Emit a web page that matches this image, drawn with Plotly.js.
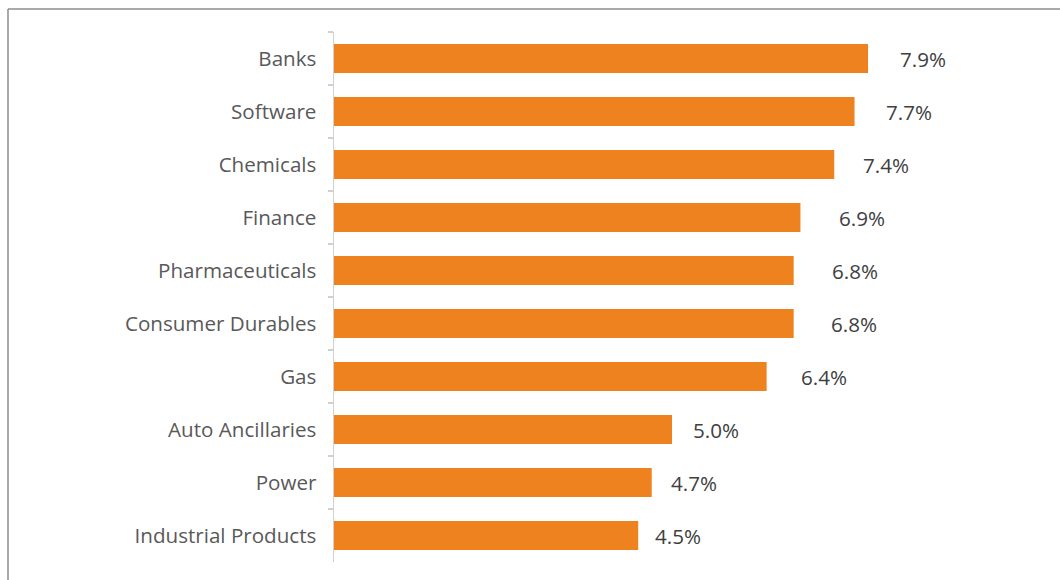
<!DOCTYPE html>
<html>
<head>
<meta charset="utf-8">
<script src="https://cdn.plot.ly/plotly-3.0.1.min.js"></script>
<style>html,body{margin:0;padding:0;background:#fff;}#chart{width:1060px;height:580px;}</style>
</head>
<body>
<div id="chart"></div>
<script>
const categories = ["Banks","Software","Chemicals","Finance","Pharmaceuticals","Consumer Durables","Gas","Auto Ancillaries","Power","Industrial Products"];
const values = [7.9, 7.7, 7.4, 6.9, 6.8, 6.8, 6.4, 5.0, 4.7, 4.5];
const valueLabels = ["7.9%","7.7%","7.4%","6.9%","6.8%","6.8%","6.4%","5.0%","4.7%","4.5%"];
// horizontal offset (px) of each value label from its bar end, as placed in the original
const labelOffsets = [30, 29, 27, 37, 36, 35, 32, 19, 17, 15];

const W = 1060, H = 580;
const mL = 334, mR = 20, mT = 32, mB = 18;
const plotW = W - mL - mR, plotH = H - mT - mB;
const pxPerUnit = 67.6;
const FS = 20.6;

const trace = {
  type: 'bar',
  orientation: 'h',
  x: values,
  y: categories,
  marker: {color: '#ee821e', line: {width: 0}},
  hoverinfo: 'skip'
};

const annotations = values.map((v, i) => ({
  x: v, y: categories[i], xref: 'x', yref: 'y',
  text: valueLabels[i], showarrow: false,
  xanchor: 'left', yanchor: 'middle', xshift: labelOffsets[i],
  font: {family: 'Open Sans', size: FS, color: '#404040'}
}));

const px = (p) => (p - mL) / plotW;
const py = (p) => 1 - (p - mT) / plotH;

const layout = {
  width: W, height: H,
  margin: {l: mL, r: mR, t: mT, b: mB, pad: 0},
  paper_bgcolor: '#ffffff', plot_bgcolor: '#ffffff',
  showlegend: false,
  bargap: 0.45,
  font: {family: 'Open Sans', size: FS, color: '#595959'},
  xaxis: {
    range: [0, plotW / pxPerUnit], visible: false, fixedrange: true
  },
  yaxis: {
    type: 'category', autorange: 'reversed',
    showline: true, linecolor: '#d0d0d0', linewidth: 1.5,
    ticks: 'outside', tickson: 'boundaries', ticklen: 5, tickcolor: '#d0d0d0', tickwidth: 1.5,
    ticklabelstandoff: 12,
    showgrid: false, zeroline: false,
    tickfont: {family: 'Open Sans', size: FS, color: '#595959'},
    fixedrange: true
  },
  annotations: annotations,
  shapes: [
    {type: 'line', xref: 'paper', yref: 'paper', x0: px(8), x1: px(8), y0: py(9), y1: py(600), line: {color: '#8c8c8c', width: 1.5}},
    {type: 'line', xref: 'paper', yref: 'paper', x0: px(8), x1: px(1080), y0: py(9), y1: py(9), line: {color: '#8c8c8c', width: 1.5}}
  ]
};

Plotly.newPlot('chart', [trace], layout, {displayModeBar: false, staticPlot: true});
</script>
</body>
</html>
